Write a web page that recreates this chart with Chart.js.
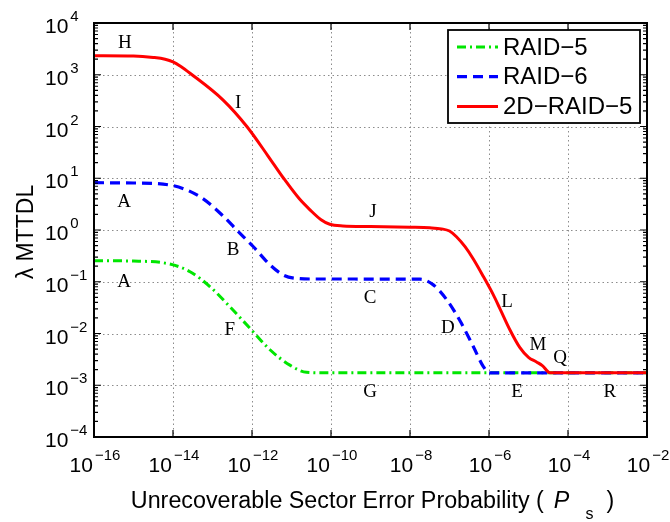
<!DOCTYPE html>
<html>
<head>
<meta charset="utf-8">
<script src="https://cdn.jsdelivr.net/npm/chart.js@4.4.0/dist/chart.umd.min.js"></script>
<style>
  html, body { margin: 0; padding: 0; background: #fff; }
  canvas { display: block; }
</style>
</head>
<body>
<canvas id="chart" width="670" height="522"></canvas>
<script>
// values (x = Ps, y = lambda * MTTDL)
const raid5Ps = [1e-16, 1e-15, 8.3e-15, 2.7e-14, 8.7e-14, 2.75e-13, 8.9e-13, 2.9e-12, 9.1e-12, 2.4e-11, 6.3e-11, 1e-2];
const raid5Val = [0.255, 0.251, 0.22, 0.156, 0.080, 0.033, 0.0126, 0.0048, 0.00245, 0.00178, 0.00174, 0.00174];

const raid6Ps = [1e-16, 1e-15, 8.3e-15, 4.8e-14, 1.86e-13, 4.1e-13, 1.07e-12, 2.9e-12, 6.2e-12, 1.35e-11, 3.2e-11, 1.8e-8, 3.9e-8, 8.5e-8, 1.86e-7, 4e-7, 7.2e-7, 1.02e-6, 1e-2];
const raid6Val = [8.2, 8.1, 7.4, 4.4, 1.86, 1.0, 0.48, 0.21, 0.135, 0.116, 0.113, 0.112, 0.087, 0.045, 0.0174, 0.0056, 0.0023, 0.00174, 0.00174];

const raid2dPs = [1e-16, 1e-15, 3.16e-15, 6.3e-15, 1e-14, 1.58e-14, 2.7e-14, 1.86e-13, 7.4e-13, 2.5e-12, 6.3e-12, 1.58e-11, 2.95e-11, 5.6e-11, 9.3e-11, 2e-10, 1e-9, 1e-8, 3.16e-8, 6.3e-8, 1e-7, 1.5e-7, 2.5e-7, 4e-7, 7.2e-7, 1.26e-6, 1.9e-6, 3.4e-6, 6e-6, 1e-5, 1.6e-5, 2.24e-5, 3.5e-5, 1e-2];
const raid2dVal = [2330, 2300, 2160, 2000, 1780, 1445, 1070, 324, 100, 27.5, 10, 4.0, 2.45, 1.58, 1.29, 1.2, 1.17, 1.13, 1.10, 1.05, 0.955, 0.74, 0.47, 0.275, 0.126, 0.0575, 0.030, 0.0117, 0.0054, 0.00347, 0.00282, 0.0024, 0.00174, 0.00174];

const seriesNames = ["RAID\u22125", "RAID\u22126", "2D\u2212RAID\u22125"];

// tick exponents
const xTickExps = [-16, -14, -12, -10, -8, -6, -4, -2];
const yTickExps = [-4, -3, -2, -1, 0, 1, 2, 3, 4];

// region letters, positions as decade exponents
const regionLetters = ["H", "I", "A", "B", "A", "F", "J", "C", "G", "D", "L", "M", "Q", "E", "R"];
const regionXExp = [-15.22, -12.35, -15.24, -12.48, -15.24, -12.56, -8.94, -9.01, -9.01, -7.04, -5.54, -4.76, -4.20, -5.29, -2.94];
const regionYExp = [3.61, 2.45, 0.54, -0.39, -1.0, -1.93, 0.35, -1.31, -3.13, -1.89, -1.39, -2.22, -2.47, -3.13, -3.13];

const colors = ["#00e600", "#0000ff", "#ff0000"];
const dashes = [[9, 4, 2, 4], [10, 6], []];
const widths = [3, 3.2, 3];

const toPts = (xs, ys) => xs.map((x, i) => ({ x, y: ys[i] }));

const SANS = "'Liberation Sans', Arial, sans-serif";
const SERIF = "'Liberation Serif', 'Times New Roman', serif";

function powLabel(ctx, exp, x, baseline, mode) {
  const sup = exp < 0 ? "\u2212" + (-exp) : String(exp);
  ctx.font = "21px " + SANS;
  const wb = ctx.measureText("10").width;
  ctx.font = "15px " + SANS;
  const ws = ctx.measureText(sup).width;
  const left = mode === "y" ? x : x - (wb + 2 + ws) / 2;
  ctx.textAlign = "left";
  ctx.textBaseline = "alphabetic";
  ctx.font = "21px " + SANS;
  ctx.fillText("10", left, baseline);
  ctx.font = "15px " + SANS;
  ctx.fillText(sup, left + wb + 2, baseline - 12);
}

const matlabAxes = {
  id: "matlabAxes",
  beforeDatasetsDraw(chart) {
    const { ctx, chartArea: a, scales: { x, y } } = chart;
    ctx.save();
    ctx.strokeStyle = "#8c8c8c";
    ctx.lineWidth = 1;
    ctx.setLineDash([1.5, 3]);
    xTickExps.forEach((e) => {
      const px = Math.round(x.getPixelForValue(10 ** e)) + 0.5;
      ctx.beginPath(); ctx.moveTo(px, a.top); ctx.lineTo(px, a.bottom); ctx.stroke();
    });
    yTickExps.forEach((e) => {
      const py = Math.round(y.getPixelForValue(10 ** e)) + 0.5;
      ctx.beginPath(); ctx.moveTo(a.left, py); ctx.lineTo(a.right, py); ctx.stroke();
    });
    ctx.restore();
  },
  afterDatasetsDraw(chart) {
    const { ctx, chartArea: a, scales: { x, y } } = chart;
    ctx.save();
    ctx.fillStyle = "#000";
    ctx.strokeStyle = "#000";

    // frame
    ctx.lineWidth = 2;
    ctx.strokeRect(a.left, a.top, a.right - a.left, a.bottom - a.top);

    // inward ticks
    ctx.lineWidth = 1.2;
    ctx.beginPath();
    xTickExps.forEach((e) => {
      const px = x.getPixelForValue(10 ** e);
      ctx.moveTo(px, a.bottom); ctx.lineTo(px, a.bottom - 7);
      ctx.moveTo(px, a.top); ctx.lineTo(px, a.top + 7);
    });
    yTickExps.forEach((e, i) => {
      const py = y.getPixelForValue(10 ** e);
      ctx.moveTo(a.left, py); ctx.lineTo(a.left + 7, py);
      ctx.moveTo(a.right, py); ctx.lineTo(a.right - 7, py);
      if (i < yTickExps.length - 1) {
        for (let m = 2; m <= 9; m++) {
          const pm = y.getPixelForValue(m * 10 ** e);
          ctx.moveTo(a.left, pm); ctx.lineTo(a.left + 4, pm);
          ctx.moveTo(a.right, pm); ctx.lineTo(a.right - 4, pm);
        }
      }
    });
    ctx.stroke();

    // tick labels
    xTickExps.forEach((e) => powLabel(ctx, e, x.getPixelForValue(10 ** e) + 1, a.bottom + 35, "x"));
    yTickExps.forEach((e) => powLabel(ctx, e, 45, y.getPixelForValue(10 ** e) + 10, "y"));

    // x title: Unrecoverable Sector Error Probability ( P_s )
    const t1 = "Unrecoverable Sector Error Probability (";
    const big = "23.3px " + SANS;
    ctx.font = big;
    const w1 = ctx.measureText(t1).width;
    const wClose = ctx.measureText(")").width;
    ctx.font = "italic " + big;
    const wP = ctx.measureText("P").width;
    ctx.font = "16px " + SANS;
    const wS = ctx.measureText("s").width;
    const gapA = 10, gapB = 16, gapC = 13;
    const total = w1 + gapA + wP + gapB + wS + gapC + wClose;
    let tx = (a.left + a.right) / 2 + 2 - total / 2;
    const tb = a.bottom + 71;
    ctx.textAlign = "left";
    ctx.textBaseline = "alphabetic";
    ctx.font = big;
    ctx.fillText(t1, tx, tb);
    tx += w1 + gapA;
    ctx.font = "italic " + big;
    ctx.fillText("P", tx, tb);
    tx += wP + gapB;
    ctx.font = "16px " + SANS;
    ctx.fillText("s", tx, tb + 11);
    tx += wS + gapC;
    ctx.font = big;
    ctx.fillText(")", tx, tb);

    // y title
    ctx.save();
    ctx.translate(33, (a.top + a.bottom) / 2 + 2);
    ctx.rotate(-Math.PI / 2);
    ctx.textAlign = "center";
    ctx.textBaseline = "alphabetic";
    ctx.font = "23px " + SANS;
    ctx.fillText("\u03bb MTTDL", 0, 0);
    ctx.restore();

    // region letters
    ctx.font = "19px " + SERIF;
    ctx.textAlign = "center";
    ctx.textBaseline = "middle";
    regionLetters.forEach((l, i) => {
      ctx.fillText(l, x.getPixelForValue(10 ** regionXExp[i]), y.getPixelForValue(10 ** regionYExp[i]));
    });

    // legend box
    const lx = a.right - 199, ly = a.top + 7, lw = 192, lh = 93;
    ctx.fillStyle = "#fff";
    ctx.fillRect(lx, ly, lw, lh);
    ctx.lineWidth = 1.8;
    ctx.strokeStyle = "#000";
    ctx.strokeRect(lx, ly, lw, lh);
    seriesNames.forEach((name, i) => {
      const ry = ly + 17 + i * 29.7;
      ctx.save();
      ctx.strokeStyle = colors[i];
      ctx.lineWidth = widths[i];
      ctx.setLineDash(dashes[i]);
      ctx.beginPath();
      ctx.moveTo(lx + 9, ry);
      ctx.lineTo(lx + 50, ry);
      ctx.stroke();
      ctx.restore();
      ctx.fillStyle = "#000";
      ctx.font = "24px " + SANS;
      ctx.textAlign = "left";
      ctx.textBaseline = "middle";
      ctx.fillText(name, lx + 55, ry + 1);
    });
    ctx.restore();
  }
};

const mk = (i, xs, ys, order) => ({
  label: seriesNames[i],
  data: toPts(xs, ys),
  borderColor: colors[i],
  borderWidth: widths[i],
  borderDash: dashes[i],
  pointRadius: 0,
  fill: false,
  cubicInterpolationMode: "monotone",
  order
});

new Chart(document.getElementById("chart"), {
  type: "line",
  data: {
    datasets: [
      mk(0, raid5Ps, raid5Val, 2),
      mk(1, raid6Ps, raid6Val, 1),
      mk(2, raid2dPs, raid2dVal, 0)
    ]
  },
  options: {
    responsive: false,
    animation: false,
    devicePixelRatio: 1,
    layout: { padding: { left: 94, top: 23, right: 23, bottom: 85 } },
    plugins: { legend: { display: false }, tooltip: { enabled: false } },
    scales: {
      x: { type: "logarithmic", min: 1e-16, max: 1e-2, display: false },
      y: { type: "logarithmic", min: 1e-4, max: 1e4, display: false }
    }
  },
  plugins: [matlabAxes]
});
</script>
</body>
</html>
